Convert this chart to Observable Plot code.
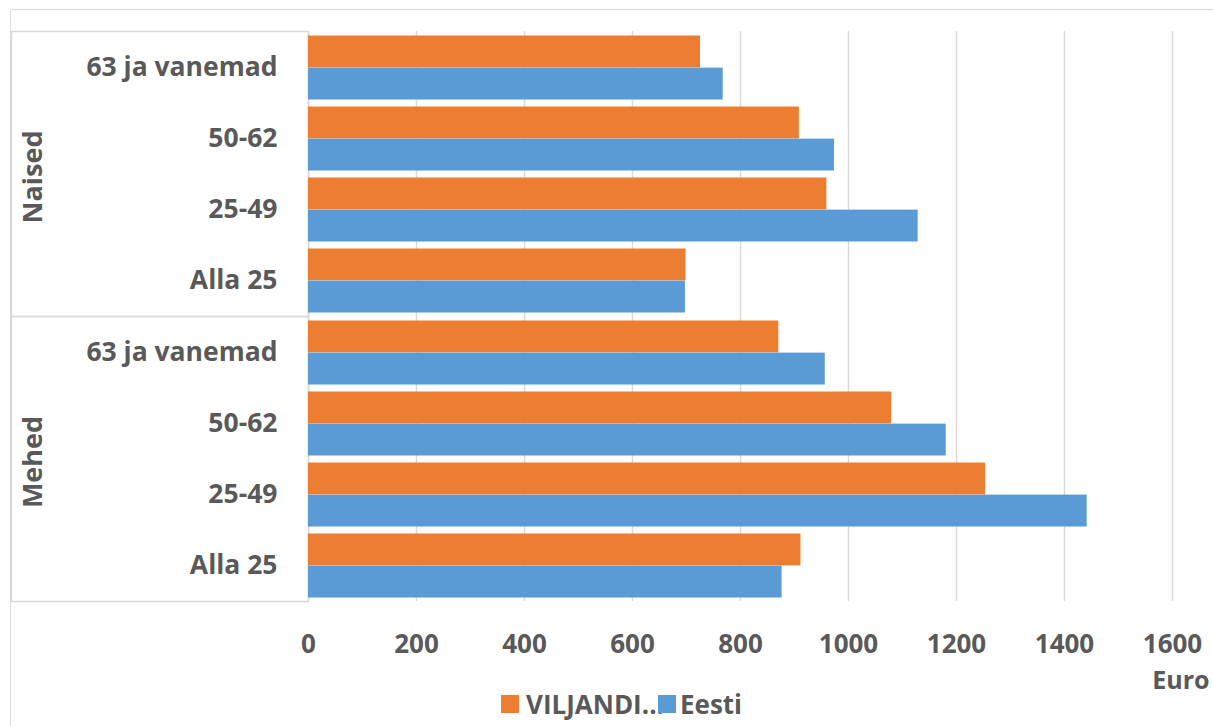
<!DOCTYPE html>
<html>
<head>
<meta charset="utf-8">
<script src="https://cdn.jsdelivr.net/npm/d3@7"></script>
<script src="https://cdn.jsdelivr.net/npm/@observablehq/plot@0.6"></script>
<style>
  html, body { margin: 0; padding: 0; background: #fff; }
  #wrap { position: relative; width: 1213px; height: 726px; overflow: hidden; font-family: "Open Sans", sans-serif; }
  #border { position: absolute; left: 10px; top: 9px; width: 1300px; height: 800px; border-top: 1.5px solid #d9d9d9; border-left: 1.5px solid #d9d9d9; pointer-events: none; }
  #chart { position: absolute; left: 0; top: 0; }
  #legend { position: absolute; left: 501px; top: 692px; display: flex; align-items: center; font-weight: 700; font-size: 26px; color: #595959; line-height: 24px; }
  .sw { width: 18px; height: 18px; display: inline-block; }
</style>
</head>
<body>
<div id="wrap">
  <div id="border"></div>
  <div id="chart"></div>
  <div id="legend"></div>
</div>
<script>
// ---- data ----
const genders = ["Naised", "Mehed"];
const ages = ["63 ja vanemad", "50-62", "25-49", "Alla 25"];
const seriesNames = ["VILJANDI...", "Eesti"];
const viljandi = [726, 909, 960, 699, 871, 1080, 1254, 912]; // Naised x4, Mehed x4
const eesti    = [768, 974, 1129, 698, 957, 1181, 1442, 877];
const xTicks = [0, 200, 400, 600, 800, 1000, 1200, 1400, 1600];
const colors = ["#ED7D31", "#5B9BD5"];
const axisTitle = "Euro";

// ---- table ----
const rows = [];
genders.forEach((g, gi) => ages.forEach((a, ai) => {
  rows.push({gender: g, age: a, series: seriesNames[0], value: viljandi[gi * 4 + ai]});
  rows.push({gender: g, age: a, series: seriesNames[1], value: eesti[gi * 4 + ai]});
}));

const W = 1213, H = 700, mL = 308, mR = 41, mT = 31, mB = 99;
const frameW = W - mL - mR;
const band = (H - mT - mB) / genders.length / ages.length;
const gap = 3.5;

const chart = Plot.plot({
  width: W, height: H,
  marginLeft: mL, marginRight: mR, marginTop: mT, marginBottom: mB,
  style: {fontFamily: "'Open Sans', sans-serif", fontWeight: 700, fontSize: "26.5px", color: "#595959", background: "transparent"},
  x: {domain: [0, 1600]},
  y: {domain: ages, padding: 0},
  fy: {domain: genders, padding: 0, axis: null},
  color: {domain: seriesNames, range: colors},
  marks: [
    Plot.gridX(xTicks, {stroke: "#d9d9d9", strokeOpacity: 1, strokeWidth: 1.5}),
    Plot.frame({stroke: "#d9d9d9", strokeWidth: 1.5, insetLeft: -(mL - 11), insetRight: frameW}),
    Plot.barX(rows.filter(d => d.series === seriesNames[0]), {
      x: "value", y: "age", fy: "gender", fill: "series",
      insetTop: gap, insetBottom: band / 2
    }),
    Plot.barX(rows.filter(d => d.series === seriesNames[1]), {
      x: "value", y: "age", fy: "gender", fill: "series",
      insetTop: band / 2, insetBottom: gap
    }),
    Plot.axisY({anchor: "left", tickSize: 0, tickPadding: 31, label: null, fill: "#595959"}),
    Plot.axisX(xTicks, {anchor: "bottom", tickSize: 0, tickPadding: 33, label: null, fill: "#595959", tickFormat: d3.format("d"), fontSize: 26}),
    Plot.text(genders, {fy: d => d, text: d => d, frameAnchor: "left", rotate: -90, textAnchor: "middle", dx: -275, dy: 3, fill: "#595959", fontSize: 27}),
    Plot.text([genders[genders.length - 1]], {fy: d => d, text: () => axisTitle, frameAnchor: "bottom-right", textAnchor: "end", dx: 37, dy: 87, fill: "#595959", fontSize: 25})
  ]
});
document.getElementById("chart").appendChild(chart);

// ---- legend ----
const leg = document.getElementById("legend");
seriesNames.forEach((s, i) => {
  const sw = document.createElement("span");
  sw.className = "sw";
  sw.style.background = colors[i];
  sw.style.marginRight = i === 0 ? "7px" : "4px";
  const t = document.createElement("span");
  t.textContent = s;
  if (i === 0) { t.style.marginRight = "-6px"; }
  leg.appendChild(sw);
  leg.appendChild(t);
});
</script>
</body>
</html>
